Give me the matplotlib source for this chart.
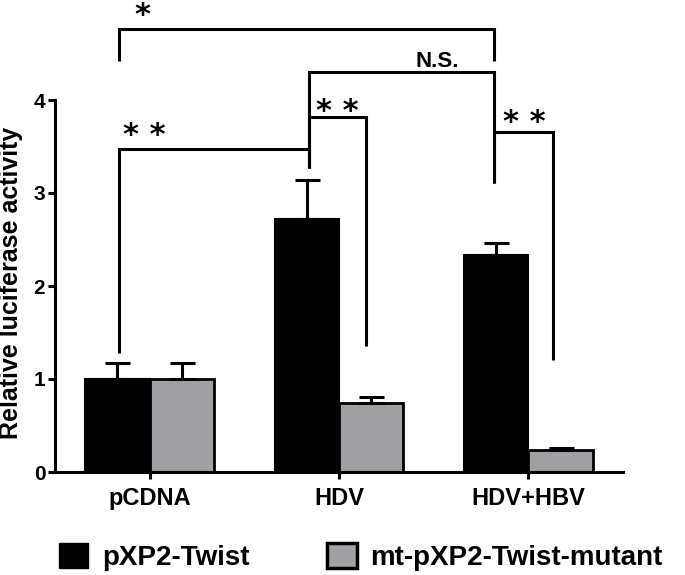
import numpy as np
import matplotlib
matplotlib.use('Agg')
import matplotlib.pyplot as plt
from matplotlib.patches import Patch

plt.rcParams['font.family'] = ['Liberation Sans', 'DejaVu Sans']
plt.rcParams['font.weight'] = 'bold'

# data
groups = ['pCDNA', 'HDV', 'HDV+HBV']
twist = [1.0, 2.72, 2.33]
twist_err = [0.17, 0.42, 0.13]
mutant = [1.0, 0.74, 0.24]
mutant_err = [0.17, 0.07, 0.02]
series_names = ['pXP2-Twist', 'mt-pXP2-Twist-mutant']

# significance brackets: x-left, x-right, top, left leg bottom, right leg bottom
brackets = [
    (-0.16, 1.82, 4.76, 4.42, 4.42),
    (0.84, 1.82, 4.30, 3.27, 3.11),
    (-0.16, 0.84, 3.47, 1.28, 3.27),
    (0.84, 1.14, 3.82, 3.27, 1.35),
    (1.82, 2.13, 3.66, 3.11, 1.20),
]
# label text, x, y (baseline)
sig_labels = [
    ('*', -0.04, 4.82),
    ('* *', -0.03, 3.53),
    ('* *', 0.99, 3.79),
    ('* *', 1.98, 3.67),
]
ns_label = ('N.S.', 1.52, 4.35)

gray = '#a0a0a4'
lw = 2.2

fig = plt.figure(figsize=(6.85, 5.75), dpi=100)
ax = fig.add_axes([55/685, 103/575, 568/685, 372/575])

x = np.arange(len(groups))
w = 0.34
ax.bar(x - w/2, twist, w, color='black', edgecolor='black', linewidth=1.5, zorder=2)
ax.bar(x + w/2, mutant, w, color=gray, edgecolor='black', linewidth=2, zorder=2)
ax.errorbar(x - w/2, twist, yerr=[np.zeros(3), twist_err], fmt='none', ecolor='black',
            elinewidth=lw, capsize=9, capthick=lw, zorder=3)
ax.errorbar(x + w/2, mutant, yerr=[np.zeros(3), mutant_err], fmt='none', ecolor='black',
            elinewidth=lw, capsize=9, capthick=lw, zorder=3)

for x1, x2, top, b1, b2 in brackets:
    ax.plot([x1, x1, x2, x2], [b1, top, top, b2], color='black', lw=lw,
            clip_on=False, solid_joinstyle='miter', solid_capstyle='butt')

for txt, tx, ty in sig_labels:
    ax.text(tx, ty, txt, ha='center', va='baseline', fontsize=22,
            family='DejaVu Sans', fontweight='bold')
ax.text(ns_label[1], ns_label[2], ns_label[0], ha='center', va='baseline', fontsize=16,
        fontweight='bold')

ax.set_xlim(-0.5, 2.5)
ax.set_ylim(0, 4)
ax.set_yticks([0, 1, 2, 3, 4])
ax.set_xticks(x)
ax.set_xticklabels(groups, fontsize=17, fontweight='bold')
ax.tick_params(axis='y', labelsize=15, width=lw, length=5, pad=2)
ax.tick_params(axis='x', width=lw, length=5, pad=6)
for lab in ax.get_yticklabels():
    lab.set_fontweight('bold')
ax.spines['top'].set_visible(False)
ax.spines['right'].set_visible(False)
ax.spines['left'].set_linewidth(lw)
ax.spines['bottom'].set_linewidth(lw)
ax.spines['left'].set_bounds(0, 4)

fig.text(11/685, 1 - 283/575, 'Relative luciferase activity', rotation=90,
         ha='center', va='center', fontsize=18, fontweight='bold')

handles = [Patch(facecolor='black', edgecolor='black'),
           Patch(facecolor=gray, edgecolor='black', linewidth=2.5)]
fig.legend(handles, series_names, ncol=2, loc='center left',
           bbox_to_anchor=(59/685, 1 - 557/575), frameon=False,
           prop={'size': 20, 'weight': 'bold'}, handlelength=1.05, handleheight=1.0,
           handletextpad=0.5, columnspacing=2.8, borderpad=0, borderaxespad=0)

fig.savefig('out.png', dpi=100)
